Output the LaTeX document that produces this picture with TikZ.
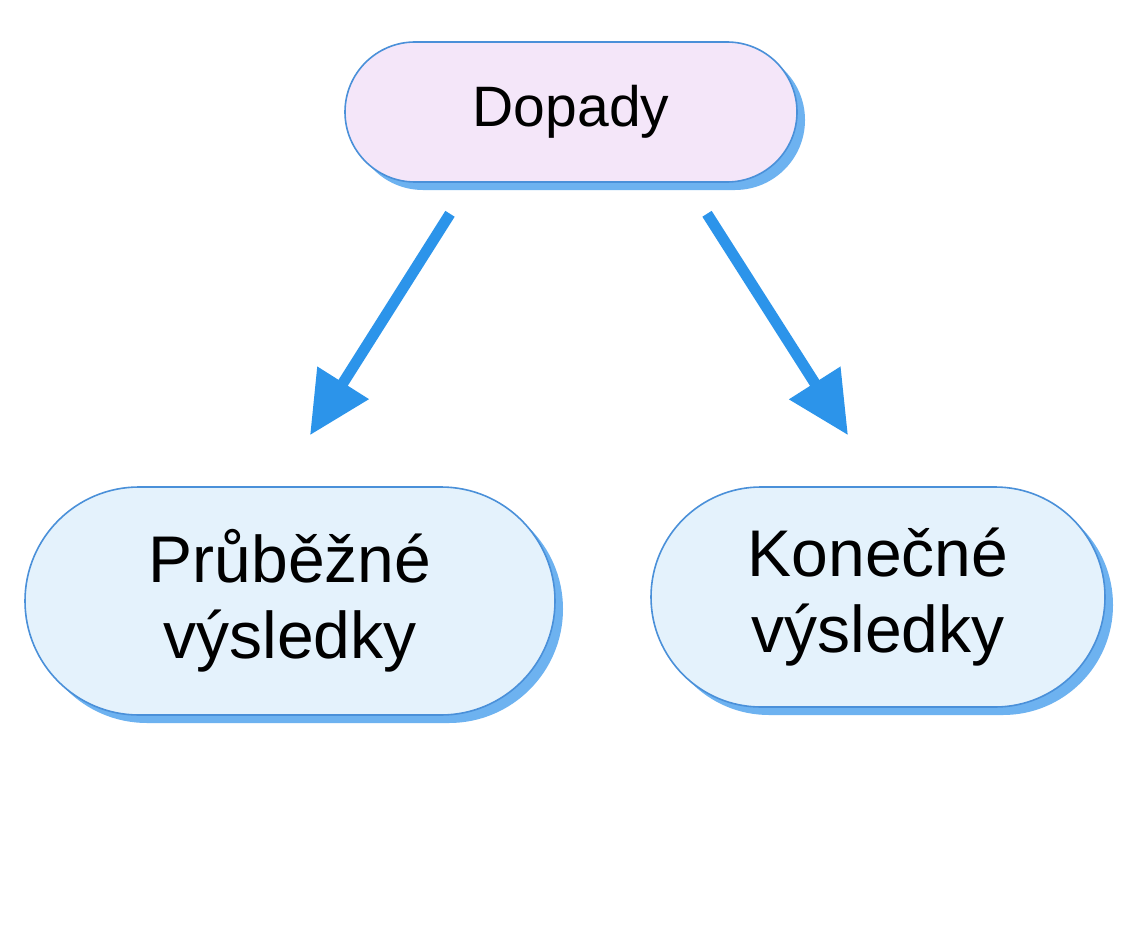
\documentclass[tikz,border=0pt]{standalone}
\usepackage{fontspec}
\setmainfont{Liberation Sans}
\usetikzlibrary{shadows,arrows.meta,calc}
\definecolor{bordblue}{HTML}{4A90D9}
\definecolor{topfill}{HTML}{F4E6F9}
\definecolor{lowfill}{HTML}{E4F2FC}
\definecolor{shadblue}{HTML}{6DB2F0}
\definecolor{arrblue}{HTML}{2C94EA}
\tikzset{
  pill/.style={draw=bordblue, line width=1.6pt, rectangle, align=center, text=black,
    drop shadow={shadow xshift=8pt, shadow yshift=-8pt, fill=shadblue, opacity=1}},
  arr/.style={draw=arrblue, line width=11pt, -{Triangle[length=62pt,width=58pt]}}
}
\begin{document}
\begin{tikzpicture}[x=1pt,y=-1pt]
\useasboundingbox[fill=white] (0,0) rectangle (1147,928);
\node[pill, fill=topfill, minimum width=452pt, minimum height=140pt, rounded corners=70pt,
  font=\fontsize{57}{68}\selectfont] (top) at (571,112) {Dopady};
\node[pill, fill=lowfill, minimum width=530pt, minimum height=228pt, rounded corners=114pt,
  font=\fontsize{66}{76}\selectfont] (left) at (290,601) {Průběžné\\výsledky};
\node[pill, fill=lowfill, minimum width=454pt, minimum height=220pt, rounded corners=110pt,
  font=\fontsize{66}{76}\selectfont] (right) at (878,597) {Konečné\\výsledky};
\draw[arr] ([shift={(-121,31)}]top.south) -- ([shift={(20,-51)}]left.north);
\draw[arr] ([shift={(136,31)}]top.south) -- ([shift={(-30,-51)}]right.north);
\end{tikzpicture}
\end{document}
